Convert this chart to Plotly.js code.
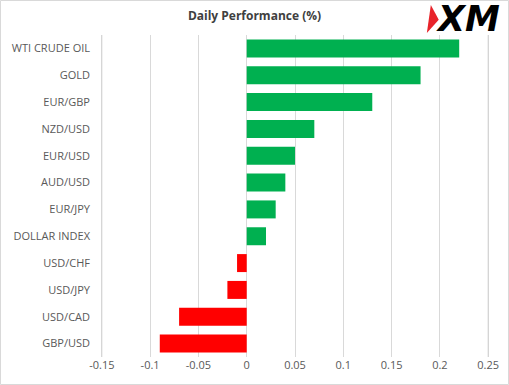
<!DOCTYPE html>
<html><head><meta charset="utf-8">
<script src="https://cdn.plot.ly/plotly-3.0.1.min.js"></script>
<style>html,body{margin:0;padding:0;background:#fff}#c{width:509px;height:385px}</style>
</head><body><div id="c"></div>
<script>
const categories = ["WTI CRUDE OIL","GOLD","EUR/GBP","NZD/USD","EUR/USD","AUD/USD","EUR/JPY","DOLLAR INDEX","USD/CHF","USD/JPY","USD/CAD","GBP/USD"];
const values = [0.22,0.18,0.13,0.07,0.05,0.04,0.03,0.02,-0.01,-0.02,-0.07,-0.09];
const tickVals = [-0.15,-0.1,-0.05,0,0.05,0.1,0.15,0.2,0.25];
const tickText = ["-0.15","-0.1","-0.05","0","0.05","0.1","0.15","0.2","0.25"];
const colors = values.map(v => v >= 0 ? "#00B050" : "#FF0000");

const trace = {
  type: "bar", orientation: "h",
  y: categories, x: values,
  marker: {color: colors},
  hoverinfo: "x+y"
};
const L = 97, T = 35, W = 396, H = 322;
const edgeGrid = [tickVals[0], tickVals[tickVals.length - 1]].map(v => ({
  type: "line", xref: "x", yref: "paper", x0: v, x1: v, y0: 0, y1: 1, layer: "above",
  line: {color: "#D4D4D4", width: 1}
}));
const layout = {
  width: 509, height: 385,
  margin: {l: L, r: 509 - L - W, t: T, b: 385 - T - H},
  paper_bgcolor: "#fff", plot_bgcolor: "#fff",
  font: {family: "Open Sans, Liberation Sans, sans-serif", size: 11, color: "#595959"},
  title: {text: "<b>Daily Performance (%)</b>", x: 0.5, xanchor: "center", y: 0.958, yanchor: "middle",
          font: {size: 12, color: "#404040", family: "Open Sans, Liberation Sans, sans-serif"}},
  bargap: 0.33,
  showlegend: false,
  xaxis: {range: [-0.155, 0.255], tickvals: tickVals, ticktext: tickText, showgrid: true,
          gridcolor: "#D9D9D9", gridwidth: 1, zeroline: false, showline: false, ticks: "", fixedrange: true,
          tickfont: {size: 11, color: "#595959"}},
  yaxis: {type: "category", autorange: "reversed", showgrid: false, zeroline: false,
          ticks: "", ticklabelstandoff: 6, tickfont: {size: 11, color: "#595959"}},
  shapes: [
    ...edgeGrid,
    {type: "rect", xref: "paper", yref: "paper", x0: -(L - 0.5)/W, x1: (508.5 - L)/W, y0: -(385 - T - H - 0.5)/H, y1: (T - 0.5 + H)/H,
     line: {color: "#D9D9D9", width: 1}, fillcolor: "rgba(0,0,0,0)"},
    {type: "path", xref: "paper", yref: "paper",
     path: "M 0.843,1.093 L 0.863,1.047 L 0.833,1.006 Z", fillcolor: "#E8232A", line: {width: 0}}
  ],
  annotations: [
    {text: "<b><i>XM</i></b>", xref: "paper", yref: "paper", x: 0.851, y: 1.051, xanchor: "left", yanchor: "middle",
     showarrow: false, font: {size: 35, color: "#000", family: "DejaVu Sans, sans-serif"}}
  ]
};
Plotly.newPlot("c", [trace], layout, {displayModeBar: false, staticPlot: true});
</script></body></html>
